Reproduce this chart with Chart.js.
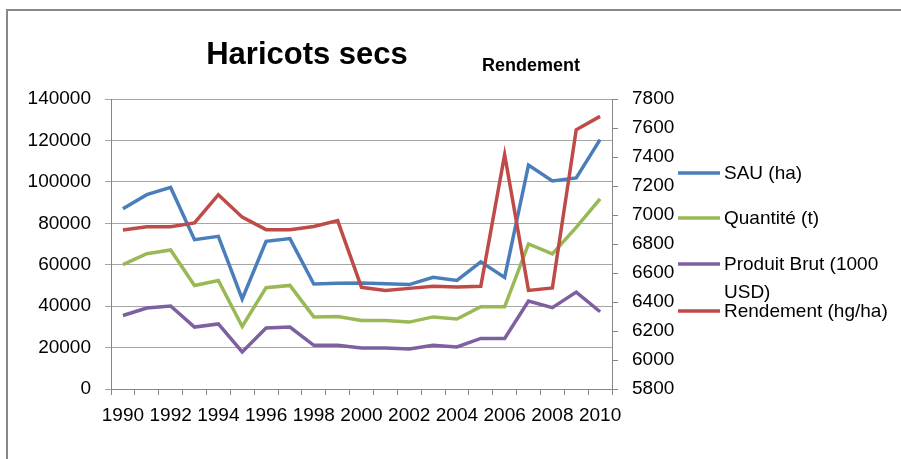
<!DOCTYPE html>
<html>
<head>
<meta charset="utf-8">
<script src="https://cdn.jsdelivr.net/npm/chart.js@4"></script>
<style>
  html, body { margin: 0; padding: 0; background: #fff; }
  canvas { display: block; }
</style>
</head>
<body>
<canvas id="chart" width="901" height="459"></canvas>
<script>
// Haricots secs — SAU, quantité, produit brut (axe gauche), rendement (axe droit)

const years = ['1990', '1991', '1992', '1993', '1994', '1995', '1996', '1997', '1998', '1999', '2000',
               '2001', '2002', '2003', '2004', '2005', '2006', '2007', '2008', '2009', '2010'];

const sau       = [87000, 93800, 97300, 72100, 73700, 43500, 71300, 72600, 50700, 51000, 51200,
                   50800, 50400, 53900, 52400, 61400, 53900, 108100, 100400, 101900, 120400];
const quantite  = [60000, 65300, 67100, 50000, 52400, 30200, 48900, 50000, 34800, 35000, 33100,
                   33100, 32300, 34800, 33800, 39700, 39700, 70000, 65200, 78000, 91800];
const produit   = [35500, 39100, 40100, 29900, 31400, 17900, 29500, 29900, 21100, 21100, 19800,
                   19800, 19300, 21100, 20300, 24400, 24400, 42500, 39300, 46800, 37300];
const rendement = [6897, 6919, 6919, 6945, 7140, 6985, 6899, 6899, 6921, 6961, 6501,
                   6480, 6494, 6508, 6503, 6508, 7416, 6480, 6497, 7588, 7680];

const BLUE   = '#4a7ebb';
const GREEN  = '#98b954';
const PURPLE = '#7d60a0';
const RED    = '#be4b48';

const AXIS = '#868686';
const GRID = '#a6a6a6';
const FONT = 'Liberation Sans, Arial, sans-serif';

function line(label, data, color, axis, order) {
    return {
        label,
        data,
        yAxisID: axis,
        borderColor: color,
        backgroundColor: color,
        borderWidth: 3.5,
        pointRadius: 0,
        tension: 0,
        order,
    };
}

// cadre, titres et légende à droite
const decor = {
    id: 'decor',
    beforeDraw(chart) {
        const c = chart.ctx;
        c.save();
        c.fillStyle = '#fff';
        c.fillRect(0, 0, chart.width, chart.height);
        c.strokeStyle = '#888';
        c.lineWidth = 2;
        c.strokeRect(7, 10, chart.width + 20, chart.height + 20);
        c.restore();
    },
    afterDraw(chart) {
        const c = chart.ctx;
        c.save();
        c.fillStyle = '#000';
        c.textBaseline = 'alphabetic';
        c.textAlign = 'center';
        c.font = 'bold 31px ' + FONT;
        c.fillText('Haricots secs', 307, 64);
        c.font = 'bold 18px ' + FONT;
        c.fillText('Rendement', 531, 71);

        c.textAlign = 'left';
        c.textBaseline = 'middle';
        c.font = '19px ' + FONT;
        const ys = [173, 218, 264, 311];
        chart.data.datasets.forEach((ds, i) => {
            const y = ys[i];
            c.strokeStyle = ds.borderColor;
            c.lineWidth = 3.5;
            c.beginPath();
            c.moveTo(678, y);
            c.lineTo(720, y);
            c.stroke();
            // retour à la ligne simple
            const words = ds.label.split(' ');
            let cur = '';
            let yy = y + 1;
            words.forEach((w) => {
                const test = cur ? cur + ' ' + w : w;
                if (cur && c.measureText(test).width > 172) {
                    c.fillText(cur, 724, yy);
                    cur = w;
                    yy += 28;
                } else {
                    cur = test;
                }
            });
            c.fillText(cur, 724, yy);
        });
        c.restore();
    },
};

const plain = (v) => String(v);

new Chart(document.getElementById('chart'), {
    type: 'line',
    data: {
        labels: years,
        datasets: [
            line('SAU (ha)', sau, BLUE, 'y', 3),
            line('Quantité (t)', quantite, GREEN, 'y', 2),
            line('Produit Brut (1000 USD)', produit, PURPLE, 'y', 1),
            line('Rendement (hg/ha)', rendement, RED, 'y1', 0),
        ],
    },
    plugins: [decor],
    options: {
        responsive: false,
        animation: false,
        layout: { padding: { top: 99, left: 0, right: 223, bottom: 0 } },
        plugins: {
            legend: { display: false },
            title: { display: false },
            tooltip: { enabled: false },
        },
        scales: {
            x: {
                type: 'category',
                offset: true,
                afterFit: (s) => { s.height = 70; },
                grid: { drawOnChartArea: false, offset: true, tickLength: 6, color: AXIS },
                border: { color: AXIS },
                ticks: {
                    color: '#000',
                    font: { family: FONT, size: 19 },
                    autoSkip: false,
                    maxRotation: 0,
                    minRotation: 0,
                    padding: 9,
                    callback(v, i) { return i % 2 === 0 ? this.getLabelForValue(v) : ''; },
                },
            },
            y: {
                position: 'left',
                min: 0,
                max: 140000,
                afterFit: (s) => { s.width = 111; },
                grid: { color: GRID, tickLength: 6 },
                border: { color: AXIS },
                ticks: {
                    stepSize: 20000,
                    color: '#000',
                    font: { family: FONT, size: 19 },
                    padding: 14,
                    callback: plain,
                },
            },
            y1: {
                position: 'right',
                min: 5800,
                max: 7800,
                afterFit: (s) => { s.width = 66; },
                grid: { drawOnChartArea: false, color: AXIS, tickLength: 6 },
                border: { color: AXIS },
                ticks: {
                    stepSize: 200,
                    color: '#000',
                    font: { family: FONT, size: 19 },
                    padding: 14,
                    callback: plain,
                },
            },
        },
    },
});
</script>
</body>
</html>
